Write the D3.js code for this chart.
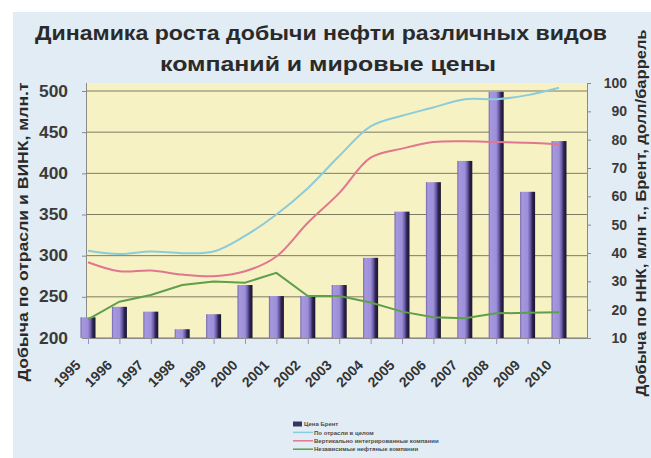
<!DOCTYPE html>
<html>
<head>
<meta charset="utf-8">
<script src="https://cdn.jsdelivr.net/npm/d3@7"></script>
<style>
  html, body { margin: 0; padding: 0; background: #ffffff; }
  svg { display: block; font-family: "Liberation Sans", Arial, sans-serif; }
</style>
</head>
<body>
<svg id="chart" width="651" height="458"></svg>
<script>
// Годы
const years = ["1995","1996","1997","1998","1999","2000","2001","2002","2003","2004","2005","2006","2007","2008","2009","2010"];
// Цена нефти Брент, долл/баррель (правая ось)
const brent = [17.3, 21.0, 19.3, 13.1, 18.4, 28.7, 24.8, 24.8, 28.7, 38.3, 54.6, 65.0, 72.5, 96.9, 61.6, 79.5];
// Добыча по отрасли в целом, млн т (левая ось)
const industry = [306, 302, 305, 303, 305, 324, 350, 382, 421, 457, 470, 480, 490, 490, 495, 504];
// Добыча ВИНК, млн т (левая ось)
const vink = [292, 281, 282, 277, 275, 281, 299, 340, 376, 419, 430, 438, 439, 438, 437, 435];
// Добыча ННК, млн т (правая ось)
const nnk = [16.6, 22.8, 25.2, 28.7, 29.9, 29.5, 33.0, 24.8, 24.8, 22.5, 19.3, 17.3, 17.0, 18.7, 18.9, 19.1];
// Подписи осей
const leftTicks = [200, 250, 300, 350, 400, 450, 500];
const rightTicks = [10, 20, 30, 40, 50, 60, 70, 80, 90, 100];

const titleLines = ["Динамика роста добычи нефти различных видов", "компаний и мировые цены"];
const leftTitle = "Добыча по отрасли и ВИНК, млн.т";
const rightTitle = "Добыча по ННК, млн т., Брент, долл/баррель";
const legendItems = [
  {label: "Цена Брент", type: "bar"},
  {label: "По отрасли в целом", type: "line", color: "#8ccbd9"},
  {label: "Вертикально интегрированные компании", type: "line", color: "#e0768f"},
  {label: "Независимые нефтяные компании", type: "line", color: "#5e9e4c"}
];

const svg = d3.select("#chart");
const plot = {left: 87, right: 587, top: 83, bottom: 338};

// фон
svg.append("rect").attr("x", 13).attr("y", 12).attr("width", 638).attr("height", 446).attr("fill", "#e2ecf4");

const x = d3.scalePoint().domain(years).range([88, 559]);
const yL = d3.scaleLinear().domain([200, 500]).range([plot.bottom, 91]);
const yR = d3.scaleLinear().domain([10, 100]).range([plot.bottom, plot.top]);

const defs = svg.append("defs");
const grad = defs.append("linearGradient").attr("id", "barGrad").attr("x1", "0").attr("x2", "1").attr("y1", "0").attr("y2", "0");
[["0%", "#6f62a8"], ["12%", "#a698de"], ["50%", "#9d8fd8"], ["68%", "#6b5ba8"], ["82%", "#2e2650"], ["100%", "#1a1530"]]
  .forEach(([o, c]) => grad.append("stop").attr("offset", o).attr("stop-color", c));

// область построения
svg.append("rect").attr("x", plot.left).attr("y", plot.top)
  .attr("width", plot.right - plot.left).attr("height", plot.bottom - plot.top)
  .attr("fill", "#f7f2c3");

// сетка
svg.append("g").selectAll("line").data(leftTicks).join("line")
  .attr("x1", plot.left).attr("x2", plot.right)
  .attr("y1", d => yL(d)).attr("y2", d => yL(d))
  .attr("stroke", "#7d7b62").attr("stroke-width", 1);

// левая ось
const gL = svg.append("g").attr("transform", `translate(${plot.left},0)`)
  .call(d3.axisLeft(yL).tickValues(leftTicks).tickSize(5).tickPadding(14));
gL.select(".domain").attr("stroke", "#8a8a8a").attr("d", `M-0.5,${plot.top}V${plot.bottom}`);
gL.selectAll(".tick line").attr("stroke", "#8a8a8a");
gL.selectAll("text").attr("font-size", 16).attr("font-weight", "bold").attr("fill", "#3a3a3a")
  .attr("textLength", 29).attr("lengthAdjust", "spacingAndGlyphs");

// правая ось
const gR = svg.append("g").attr("transform", `translate(${plot.right},0)`)
  .call(d3.axisRight(yR).tickValues(rightTicks).tickSize(4).tickPadding(36));
gR.select(".domain").attr("stroke", "#8a8a8a");
gR.selectAll(".tick line").attr("stroke", "#8a8a8a");
gR.selectAll("text").attr("font-size", 14).attr("font-weight", "bold").attr("fill", "#3a3a3a")
  .attr("text-anchor", "end");

// нижняя ось
const gX = svg.append("g").attr("transform", `translate(0,${plot.bottom})`)
  .call(d3.axisBottom(x).tickSize(6).tickPadding(0));
gX.select(".domain").attr("stroke", "#8a8a8a").attr("d", `M${plot.left},0.5H${plot.right}`);
gX.selectAll(".tick line").attr("stroke", "#9a8fc8");
gX.selectAll("text")
  .attr("font-size", 14).attr("font-weight", "bold").attr("fill", "#333333")
  .attr("text-anchor", "end").attr("dy", null).attr("y", 0)
  .attr("transform", "translate(-7,28) rotate(-45)");

// столбцы: цена Брент
const bw = 15;
svg.append("g").selectAll("rect").data(years).join("rect")
  .attr("x", d => x(d) - bw / 2)
  .attr("y", (d, i) => yR(brent[i]))
  .attr("width", bw)
  .attr("height", (d, i) => plot.bottom - yR(brent[i]))
  .attr("fill", "url(#barGrad)");

// линии
const lineL = d3.line().x((d, i) => x(years[i])).y(d => yL(d)).curve(d3.curveCatmullRom.alpha(0.5));
const lineR = d3.line().x((d, i) => x(years[i])).y(d => yR(d));
svg.append("path").datum(industry).attr("d", lineL).attr("fill", "none").attr("stroke", "#8ccbd9").attr("stroke-width", 2);
svg.append("path").datum(vink).attr("d", lineL).attr("fill", "none").attr("stroke", "#e0768f").attr("stroke-width", 2);
svg.append("path").datum(nnk).attr("d", lineR).attr("fill", "none").attr("stroke", "#5e9e4c").attr("stroke-width", 2);

// заголовок
svg.append("text").attr("x", 321).attr("y", 40).attr("text-anchor", "middle")
  .attr("font-size", 20).attr("font-weight", "bold").attr("fill", "#2a2a2a")
  .attr("textLength", 572).attr("lengthAdjust", "spacingAndGlyphs").text(titleLines[0]);
svg.append("text").attr("x", 328).attr("y", 71).attr("text-anchor", "middle")
  .attr("font-size", 20).attr("font-weight", "bold").attr("fill", "#2a2a2a")
  .attr("textLength", 336).attr("lengthAdjust", "spacingAndGlyphs").text(titleLines[1]);

// подписи осей
svg.append("text").attr("transform", "translate(28,232) rotate(-90)").attr("text-anchor", "middle")
  .attr("font-size", 15).attr("font-weight", "bold").attr("fill", "#2a2a2a")
  .attr("textLength", 299).attr("lengthAdjust", "spacingAndGlyphs").text(leftTitle);
svg.append("text").attr("transform", "translate(646,213) rotate(-90)").attr("text-anchor", "middle")
  .attr("font-size", 14).attr("font-weight", "bold").attr("fill", "#2a2a2a")
  .attr("textLength", 367).attr("lengthAdjust", "spacingAndGlyphs").text(rightTitle);

// легенда
const lg = svg.append("g").attr("transform", "translate(293,424)");
legendItems.forEach((d, i) => {
  const row = lg.append("g").attr("transform", `translate(0,${i * 8.4})`);
  if (d.type === "bar") {
    row.append("rect").attr("x", 0).attr("y", -2.5).attr("width", 9).attr("height", 5).attr("fill", "#3a3260");
  } else {
    row.append("line").attr("x1", 0).attr("x2", 20).attr("y1", 0).attr("y2", 0)
      .attr("stroke", d.color).attr("stroke-width", 1.5);
  }
  row.append("text").attr("x", d.type === "bar" ? 11 : 21).attr("y", 2.2)
    .attr("font-size", 6).attr("font-weight", "bold").attr("fill", "#4a4a4a").text(d.label);
});
</script>
</body>
</html>
